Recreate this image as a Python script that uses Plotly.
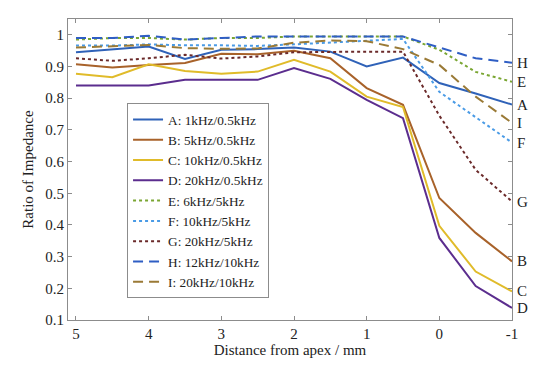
import plotly.graph_objects as go

distance = [5, 4.5, 4, 3.5, 3, 2.5, 2, 1.5, 1, 0.5, 0, -0.5, -1]

series_names = ["A: 1kHz/0.5kHz", "B: 5kHz/0.5kHz", "C: 10kHz/0.5kHz", "D: 20kHz/0.5kHz",
                "E: 6kHz/5kHz", "F: 10kHz/5kHz", "G: 20kHz/5kHz",
                "H: 12kHz/10kHz", "I: 20kHz/10kHz"]
end_labels = ["A", "B", "C", "D", "E", "F", "G", "H", "I"]

A = [0.945, 0.953, 0.963, 0.924, 0.953, 0.955, 0.960, 0.947, 0.900, 0.928, 0.848, 0.815, 0.780]
B = [0.907, 0.897, 0.905, 0.911, 0.940, 0.939, 0.950, 0.926, 0.832, 0.779, 0.485, 0.375, 0.285]
C = [0.877, 0.866, 0.907, 0.886, 0.877, 0.884, 0.921, 0.884, 0.805, 0.772, 0.397, 0.253, 0.190]
D = [0.840, 0.840, 0.840, 0.858, 0.858, 0.858, 0.895, 0.861, 0.795, 0.737, 0.359, 0.207, 0.138]
E = [0.985, 0.990, 0.990, 0.985, 0.990, 0.990, 0.995, 0.995, 0.995, 0.995, 0.953, 0.883, 0.852]
F = [0.966, 0.966, 0.970, 0.967, 0.967, 0.965, 0.970, 0.975, 0.980, 0.987, 0.820, 0.740, 0.660]
G = [0.926, 0.918, 0.926, 0.937, 0.925, 0.932, 0.945, 0.947, 0.947, 0.947, 0.745, 0.574, 0.474]
H = [0.990, 0.990, 0.997, 0.985, 0.990, 0.995, 0.995, 0.995, 0.995, 0.995, 0.960, 0.926, 0.912]
I = [0.960, 0.963, 0.968, 0.958, 0.956, 0.957, 0.975, 0.982, 0.980, 0.955, 0.905, 0.805, 0.722]

all_series = [A, B, C, D, E, F, G, H, I]

colors = ["#2f62b8", "#a8622a", "#e0bb2a", "#5b2d8e", "#7aa632", "#4a9be6", "#6b2a2a", "#2f5ec4", "#9a7a36"]
dashes = ["solid", "solid", "solid", "solid", "dot", "dot", "dot", "10px,6px", "10px,6px"]

y_ticks = [0.1, 0.2, 0.3, 0.4, 0.5, 0.6, 0.7, 0.8, 0.9, 1]
y_tick_text = ["0.1", "0.2", "0.3", "0.4", "0.5", "0.6", "0.7", "0.8", "0.9", "1"]
x_ticks = [5, 4, 3, 2, 1, 0, -1]
x_tick_text = ["5", "4", "3", "2", "1", "0", "-1"]

font = "Liberation Serif, Times New Roman, serif"

fig = go.Figure()
for name, vals, col, dsh in zip(series_names, all_series, colors, dashes):
    fig.add_trace(go.Scatter(x=distance, y=vals, mode="lines", name=name,
                             line=dict(color=col, width=2, dash=dsh)))

for lab, vals in zip(end_labels, all_series):
    fig.add_annotation(x=1, xref="paper", y=vals[-1], yref="y", text=lab,
                       showarrow=False, xanchor="left", yanchor="middle", xshift=3,
                       font=dict(family=font, size=15, color="#222"))

axis_common = dict(showline=True, linecolor="#8c8c8c", linewidth=1, mirror="ticks",
                   ticks="inside", ticklen=4, tickcolor="#8c8c8c", showgrid=False,
                   zeroline=False, tickfont=dict(family=font, size=15, color="#222"))

fig.update_xaxes(range=[5.11, -1], tickvals=x_ticks, ticktext=x_tick_text,
                 title=dict(text="Distance from apex / mm", font=dict(family=font, size=15, color="#222"), standoff=3),
                 **axis_common)
fig.update_yaxes(range=[0.1, 1.05], tickvals=y_ticks, ticktext=y_tick_text,
                 title=dict(text="Ratio of Impedance", font=dict(family=font, size=15, color="#222"), standoff=8),
                 **axis_common)

fig.update_layout(width=550, height=368, margin=dict(l=60, r=46, t=11, b=56),
                  paper_bgcolor="white", plot_bgcolor="white",
                  legend=dict(x=0.133, y=0.72, xanchor="left", yanchor="top",
                              bgcolor="white", bordercolor="#8c8c8c", borderwidth=1,
                              font=dict(family=font, size=13.3, color="#222"),
                              tracegroupgap=0, itemwidth=30),
                  showlegend=True)

fig.write_html("out.html")
